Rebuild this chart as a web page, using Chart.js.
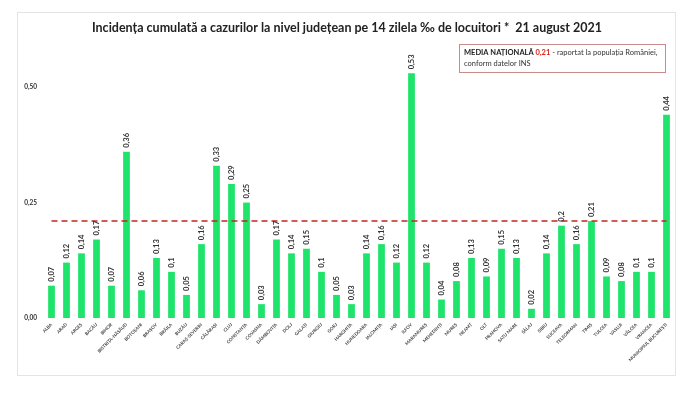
<!DOCTYPE html>
<html>
<head>
<meta charset="utf-8">
<script src="https://cdn.jsdelivr.net/npm/chart.js@4"></script>
<style>
    html, body { margin: 0; padding: 0; background: #fff; }
    #wrap { width: 700px; height: 396px; }
</style>
</head>
<body>
<div id="wrap"><canvas id="incidenceChart" width="700" height="396"></canvas></div>
<script>
const counties = [
    "ALBA", "ARAD", "ARGEȘ", "BACĂU", "BIHOR", "BISTRIȚA-NĂSĂUD", "BOTOȘANI", "BRAȘOV", "BRĂILA", "BUZĂU",
    "CARAȘ-SEVERIN", "CĂLĂRAȘI", "CLUJ", "CONSTANȚA", "COVASNA", "DÂMBOVIȚA", "DOLJ", "GALAȚI", "GIURGIU", "GORJ",
    "HARGHITA", "HUNEDOARA", "IALOMIȚA", "IAȘI", "ILFOV", "MARAMUREȘ", "MEHEDINȚI", "MUREȘ", "NEAMȚ", "OLT",
    "PRAHOVA", "SATU MARE", "SĂLAJ", "SIBIU", "SUCEAVA", "TELEORMAN", "TIMIȘ", "TULCEA", "VASLUI", "VÂLCEA",
    "VRANCEA", "MUNICIPIUL BUCUREȘTI"
];
const incidence = [
    0.07, 0.12, 0.14, 0.17, 0.07, 0.36, 0.06, 0.13, 0.1, 0.05,
    0.16, 0.33, 0.29, 0.25, 0.03, 0.17, 0.14, 0.15, 0.1, 0.05,
    0.03, 0.14, 0.16, 0.12, 0.53, 0.12, 0.04, 0.08, 0.13, 0.09,
    0.15, 0.13, 0.02, 0.14, 0.2, 0.16, 0.21, 0.09, 0.08, 0.1,
    0.1, 0.44
];
const nationalAverage = 0.21;
const yTicks = [0, 0.25, 0.5];

const FONT = "Lato, 'Open Sans', sans-serif";
const commaNum = v => String(v).replace(".", ",");

// frame around the whole chart + the national average box
const framePlugin = {
    id: "frame",
    beforeDraw(chart) {
        const ctx = chart.ctx;
        ctx.save();
        ctx.fillStyle = "#fff";
        ctx.fillRect(0, 0, chart.width, chart.height);
        ctx.strokeStyle = "#e4e4e4";
        ctx.lineWidth = 1;
        ctx.strokeRect(17.5, 12.5, 658, 363);
        ctx.restore();
    },
    afterDraw(chart) {
        const ctx = chart.ctx;
        ctx.save();
        ctx.strokeStyle = "#c98a8a";
        ctx.lineWidth = 1;
        ctx.strokeRect(459.5, 44.5, 206, 28);
        ctx.textBaseline = "middle";
        ctx.textAlign = "left";
        let x = 464;
        ctx.font = "bold 7.5px " + FONT;
        ctx.fillStyle = "#222";
        const p1 = "MEDIA NAȚIONALĂ ";
        ctx.fillText(p1, x, 53);
        x += ctx.measureText(p1).width;
        ctx.fillStyle = "#e0201b";
        const p2 = commaNum(nationalAverage);
        ctx.fillText(p2, x, 53);
        x += ctx.measureText(p2).width;
        ctx.font = "7.5px " + FONT;
        ctx.fillStyle = "#333";
        ctx.fillText(" - raportat la populația României,", x, 53);
        ctx.fillText("conform datelor INS", 464, 64);
        ctx.restore();
    }
};

// value labels, rotated, above each bar
const valueLabels = {
    id: "valueLabels",
    afterDatasetsDraw(chart) {
        const ctx = chart.ctx;
        const meta = chart.getDatasetMeta(0);
        ctx.save();
        ctx.font = "bold 7.5px " + FONT;
        ctx.fillStyle = "#333";
        ctx.textAlign = "left";
        ctx.textBaseline = "middle";
        meta.data.forEach((bar, i) => {
            ctx.save();
            ctx.translate(bar.x, bar.y - 4);
            ctx.rotate(-Math.PI / 2);
            ctx.fillText(commaNum(incidence[i]), 0, 0);
            ctx.restore();
        });
        ctx.restore();
    }
};

const ctx = document.getElementById("incidenceChart").getContext("2d");
new Chart(ctx, {
    type: "bar",
    data: {
        labels: counties,
        datasets: [{
            label: "Incidența",
            data: incidence,
            backgroundColor: "#1fe46b",
            barPercentage: 0.45,
            categoryPercentage: 1,
            order: 2,
        }, {
            type: "line",
            label: "Media națională",
            data: counties.map(() => nationalAverage),
            borderColor: "#c0281f",
            borderWidth: 1.5,
            borderDash: [6, 4],
            pointRadius: 0,
            fill: false,
            order: 1,
        }],
    },
    options: {
        responsive: false,
        animation: false,
        layout: {padding: {left: 20, right: 26, top: 13, bottom: 28}},
        plugins: {
            legend: {display: false},
            tooltip: {enabled: false},
            title: {
                display: true,
                text: "Incidența cumulată a cazurilor la nivel județean pe 14 zilela ‰ de locuitori *  21 august 2021",
                color: "#222",
                font: {family: FONT, size: 12.5, weight: "bold"},
                padding: {top: 7, bottom: 6},
            },
        },
        scales: {
            x: {
                grid: {display: false, drawTicks: false},
                border: {display: false},
                ticks: {
                    autoSkip: false,
                    minRotation: 45,
                    maxRotation: 45,
                    padding: 4,
                    color: "#444",
                    font: {family: FONT, size: 4.5, weight: "bold"},
                },
                afterFit(scale) { scale.height = 50; },
            },
            y: {
                min: 0,
                max: 0.6,
                grid: {display: false, drawTicks: false},
                border: {display: false},
                afterBuildTicks(scale) {
                    scale.ticks = yTicks.map(v => ({value: v}));
                },
                ticks: {
                    padding: 7,
                    color: "#333",
                    font: {family: FONT, size: 6.5, weight: "bold"},
                    callback: v => v.toFixed(2).replace(".", ","),
                },
                afterFit(scale) { scale.width = 24; },
            },
        },
    },
    plugins: [framePlugin, valueLabels],
});
</script>
</body>
</html>
